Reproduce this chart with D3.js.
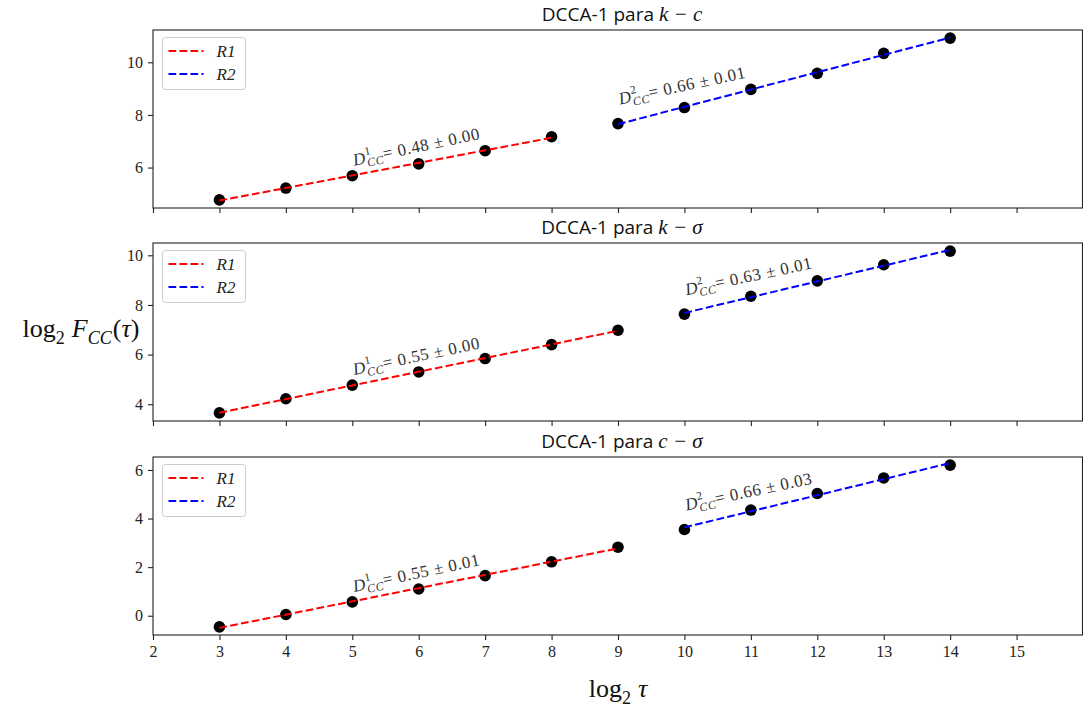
<!DOCTYPE html>
<html>
<head>
<meta charset="utf-8">
<script src="https://cdn.jsdelivr.net/npm/d3@7"></script>
<style>
body { margin:0; background:#fff; }
svg { display:block; }
.tick text { font-family:"Liberation Serif","DejaVu Serif",serif; font-size:16px; fill:#222; }
</style>
</head>
<body>
<svg id="chart" width="1083" height="710"></svg>
<script>
// log2 tau, shared by the three panels
var logTau = [3,4,5,6,7,8,9,10,11,12,13,14];

// log2 Fcc values
var fccKC = [4.77,5.22,5.69,6.14,6.64,7.17,7.67,8.28,8.97,9.58,10.34,10.92];
var fccKS = [3.65,4.22,4.77,5.30,5.84,6.40,6.98,7.63,8.35,8.97,9.62,10.17];
var fccCS = [-0.46,0.05,0.57,1.10,1.65,2.22,2.82,3.55,4.35,5.03,5.67,6.20];

// index where R2 starts in each panel
var splitAt = [6,7,7];

var pairNames = ["k \u2212 c","k \u2212 \u03C3","c \u2212 \u03C3"];
var r1Text = ["0.48 \u00B1 0.00","0.55 \u00B1 0.00","0.55 \u00B1 0.01"];
var r2Text = ["0.66 \u00B1 0.01","0.63 \u00B1 0.01","0.66 \u00B1 0.03"];

var xTicks = [2,3,4,5,6,7,8,9,10,11,12,13,14,15];
var yTicks = [[6,8,10],[4,6,8,10],[0,2,4,6]];

(function() {
var svg = d3.select("#chart");
var left = 153, right = 1083;
var panelTops = [30,243,457];
var panelH = 178;
var serif = "'Liberation Serif','DejaVu Serif',serif";

var x = d3.scaleLinear().domain([2,16]).range([left,right]);

function fit(xs, ys) {
	var n = xs.length;
	var mx = d3.mean(xs), my = d3.mean(ys);
	var sxy = 0, sxx = 0;
	for (var i=0;i<n;i++) { sxy += (xs[i]-mx)*(ys[i]-my); sxx += (xs[i]-mx)*(xs[i]-mx); }
	var b = sxy/sxx;
	return function(v) { return my + b*(v-mx); };
}

var allVals = [fccKC, fccKS, fccCS];

for (var p=0;p<3;p++) {
	var vals = allVals[p];
	var pTop = panelTops[p];
	var lo = d3.min(vals), hi = d3.max(vals), pad = (hi-lo)*0.05;
	var y = d3.scaleLinear().domain([lo-pad, hi+pad]).range([pTop+panelH, pTop]);
	var g = svg.append("g");

	// axes
	var xa = g.append("g").attr("transform","translate(0,"+(pTop+panelH)+")")
		.call(d3.axisBottom(x).tickValues(xTicks).tickSize(5).tickPadding(6).tickFormat(p==2 ? d3.format("d") : ""));
	xa.select(".domain").remove();
	xa.selectAll(".tick line").attr("stroke","#222").attr("stroke-width",1.1);
	var ya = g.append("g").attr("transform","translate("+left+",0)")
		.call(d3.axisLeft(y).tickValues(yTicks[p]).tickSize(5).tickPadding(5).tickFormat(d3.format("d")));
	ya.select(".domain").remove();
	ya.selectAll(".tick line").attr("stroke","#222").attr("stroke-width",1.1);

	// points
	var pts = logTau.map(function(t,i){ return [t, vals[i]]; });
	g.selectAll("circle").data(pts).enter().append("circle")
		.attr("cx",function(d){ return x(d[0]); })
		.attr("cy",function(d){ return y(d[1]); })
		.attr("r",5.8).attr("fill","#000");

	// fitted regions
	var segs = [
		{xs: logTau.slice(0,splitAt[p]), ys: vals.slice(0,splitAt[p]), color:"#ff0000", txt:r1Text[p], sup:"1", at:2, off:-10},
		{xs: logTau.slice(splitAt[p]), ys: vals.slice(splitAt[p]), color:"#0000ff", txt:r2Text[p], sup:"2", at:0, off:-19}
	];
	segs.forEach(function(s) {
		var f = fit(s.xs, s.ys);
		var ends = [s.xs[0], s.xs[s.xs.length-1]];
		g.append("line")
			.attr("x1",x(ends[0])).attr("y1",y(f(ends[0])))
			.attr("x2",x(ends[1])).attr("y2",y(f(ends[1])))
			.attr("stroke",s.color).attr("stroke-width",2).attr("stroke-dasharray","7.7,3.3");
		var ax = x(s.xs[s.at])+2, ay = y(s.ys[s.at])+s.off;
		var t = g.append("text").attr("transform","translate("+ax+","+ay+") rotate(-12)")
			.attr("font-family",serif).attr("font-size",17).attr("fill","#333").attr("letter-spacing",0.6);
		t.append("tspan").attr("font-style","italic").text("D");
		t.append("tspan").attr("font-size",11.5).attr("dy",-8).text(s.sup);
		t.append("tspan").attr("font-size",12).attr("font-style","italic").attr("dx",-6).attr("dy",12).text("CC");
		t.append("tspan").attr("dy",-4).text("= "+s.txt);
	});

	// frame
	g.append("rect").attr("x",left).attr("y",pTop).attr("width",right-left-0.5).attr("height",panelH)
		.attr("fill","none").attr("stroke","#222").attr("stroke-width",1.1);

	// title
	var tt = g.append("text").attr("x",(left+right)/2+4).attr("y",pTop-9).attr("text-anchor","middle")
		.attr("font-size",19).attr("fill","#111");
	tt.append("tspan").attr("font-family","'Open Sans','DejaVu Sans',sans-serif").text("DCCA-1 para ");
	tt.append("tspan").attr("font-family",serif).attr("font-style","italic").attr("font-size",21)
		.text(pairNames[p]);

	// legend
	var lg = g.append("g").attr("transform","translate("+(left+9.5)+","+(pTop+7.5)+")");
	lg.append("rect").attr("width",83).attr("height",52).attr("rx",3)
		.attr("fill","#fff").attr("fill-opacity",0.8).attr("stroke","#ccc");
	[["R1","#ff0000"],["R2","#0000ff"]].forEach(function(e,i) {
		var ly = 13.5 + i*23;
		lg.append("line").attr("x1",6).attr("x2",41).attr("y1",ly).attr("y2",ly)
			.attr("stroke",e[1]).attr("stroke-width",2).attr("stroke-dasharray","7.7,3.3");
		lg.append("text").attr("x",54).attr("y",ly+5.5).attr("font-family",serif).attr("font-style","italic")
			.attr("font-size",17).attr("fill","#222").text(e[0]);
	});
}

// axis labels
var yl = svg.append("text").attr("x",81).attr("y",337).attr("text-anchor","middle")
	.attr("font-family",serif).attr("font-size",26).attr("fill","#111");
yl.append("tspan").text("log");
yl.append("tspan").attr("font-size",18).attr("dy",7).text("2");
yl.append("tspan").attr("font-style","italic").attr("dx",7).attr("dy",-7).text("F");
yl.append("tspan").attr("font-size",18).attr("font-style","italic").attr("dy",7).text("CC");
yl.append("tspan").attr("dy",-7).attr("dx",1).text("(");
yl.append("tspan").attr("font-style","italic").text("\u03C4");
yl.append("tspan").text(")");

var xl = svg.append("text").attr("x",618).attr("y",697).attr("text-anchor","middle")
	.attr("font-family",serif).attr("font-size",26).attr("fill","#111");
xl.append("tspan").text("log");
xl.append("tspan").attr("font-size",18).attr("dy",7).text("2");
xl.append("tspan").attr("font-style","italic").attr("dx",7).attr("dy",-7).text("\u03C4");
})();
</script>
</body>
</html>
